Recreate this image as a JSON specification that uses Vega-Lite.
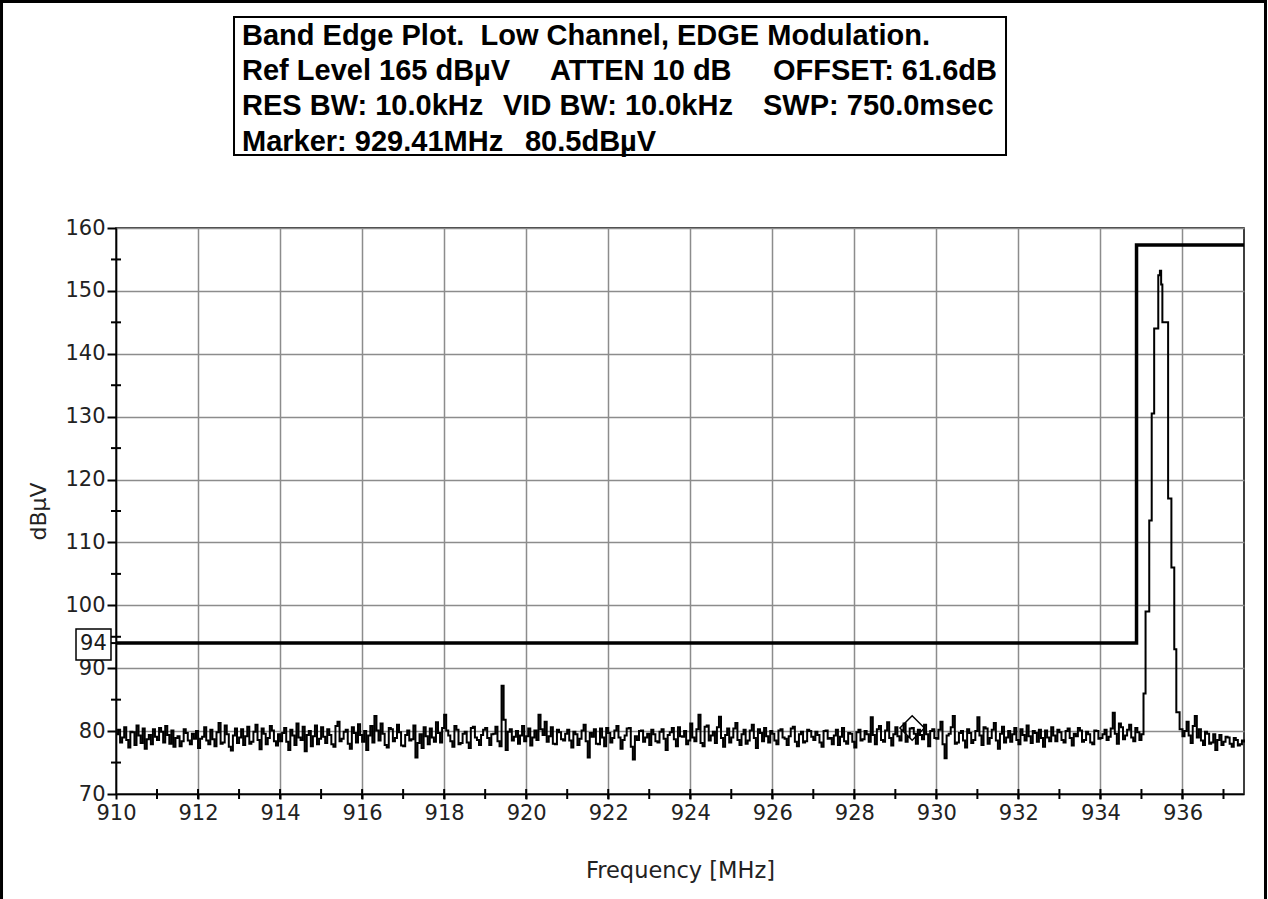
{
  "$schema": "https://vega.github.io/schema/vega-lite/v6.json",
  "width": 1128,
  "height": 566,
  "autosize": {"type": "none"},
  "padding": {"left": 116, "top": 228, "right": 24, "bottom": 105},
  "background": "white",
  "config": {"view": {"stroke": "black", "strokeWidth": 1.5}, "font": "DejaVu Sans"},
  "data": {"values": [{}]},
  "datasets": {
    "trace": [
      {"f":910.0,"v":79.5},{"f":910.05,"v":80.2},{"f":910.1,"v":78.2},{"f":910.15,"v":79.0},{"f":910.2,"v":80.6},{"f":910.25,"v":78.6},{"f":910.3,"v":77.4},{"f":910.35,"v":79.9},{"f":910.4,"v":79.8},{"f":910.45,"v":77.8},{"f":910.5,"v":80.9},{"f":910.55,"v":79.3},{"f":910.6,"v":78.1},{"f":910.65,"v":80.4},{"f":910.7,"v":77.2},{"f":910.75,"v":78.7},{"f":910.8,"v":79.4},{"f":910.85,"v":77.9},{"f":910.9,"v":80.3},{"f":910.95,"v":79.1},
      {"f":911.0,"v":78.6},{"f":911.05,"v":80.5},{"f":911.1,"v":79.9},{"f":911.15,"v":78.2},{"f":911.2,"v":80.8},{"f":911.25,"v":79.4},{"f":911.3,"v":78.0},{"f":911.35,"v":80.1},{"f":911.4,"v":77.5},{"f":911.45,"v":78.9},{"f":911.5,"v":79.2},{"f":911.55,"v":77.6},{"f":911.6,"v":78.4},{"f":911.65,"v":80.3},{"f":911.7,"v":79.7},{"f":911.75,"v":78.5},{"f":911.8,"v":77.9},{"f":911.85,"v":79.6},{"f":911.9,"v":78.8},{"f":911.95,"v":80.0},
      {"f":912.0,"v":77.3},{"f":912.05,"v":78.8},{"f":912.1,"v":79.1},{"f":912.15,"v":80.6},{"f":912.2,"v":78.5},{"f":912.25,"v":77.9},{"f":912.3,"v":80.2},{"f":912.35,"v":78.7},{"f":912.4,"v":77.6},{"f":912.45,"v":79.8},{"f":912.5,"v":81.3},{"f":912.55,"v":78.0},{"f":912.6,"v":78.2},{"f":912.65,"v":80.9},{"f":912.7,"v":79.5},{"f":912.75,"v":77.5},{"f":912.8,"v":76.9},{"f":912.85,"v":79.3},{"f":912.9,"v":80.4},{"f":912.95,"v":78.1},
      {"f":913.0,"v":79.0},{"f":913.05,"v":80.3},{"f":913.1,"v":77.8},{"f":913.15,"v":79.2},{"f":913.2,"v":80.7},{"f":913.25,"v":78.0},{"f":913.3,"v":78.3},{"f":913.35,"v":79.9},{"f":913.4,"v":81.0},{"f":913.45,"v":78.6},{"f":913.5,"v":77.1},{"f":913.55,"v":80.4},{"f":913.6,"v":79.6},{"f":913.65,"v":77.9},{"f":913.7,"v":78.9},{"f":913.75,"v":80.8},{"f":913.8,"v":80.1},{"f":913.85,"v":78.4},{"f":913.9,"v":77.7},{"f":913.95,"v":79.5},
      {"f":914.0,"v":78.4},{"f":914.05,"v":79.7},{"f":914.1,"v":80.5},{"f":914.15,"v":78.3},{"f":914.2,"v":77.0},{"f":914.25,"v":80.2},{"f":914.3,"v":79.3},{"f":914.35,"v":77.8},{"f":914.4,"v":81.2},{"f":914.45,"v":79.0},{"f":914.5,"v":78.6},{"f":914.55,"v":80.7},{"f":914.6,"v":76.8},{"f":914.65,"v":79.4},{"f":914.7,"v":80.0},{"f":914.75,"v":77.6},{"f":914.8,"v":79.2},{"f":914.85,"v":80.9},{"f":914.9,"v":77.9},{"f":914.95,"v":78.8},
      {"f":915.0,"v":80.6},{"f":915.05,"v":79.1},{"f":915.1,"v":78.1},{"f":915.15,"v":80.3},{"f":915.2,"v":79.4},{"f":915.25,"v":77.9},{"f":915.3,"v":77.5},{"f":915.35,"v":80.8},{"f":915.4,"v":81.5},{"f":915.45,"v":78.4},{"f":915.5,"v":78.8},{"f":915.55,"v":79.9},{"f":915.6,"v":80.2},{"f":915.65,"v":78.0},{"f":915.7,"v":77.2},{"f":915.75,"v":80.6},{"f":915.8,"v":79.7},{"f":915.85,"v":78.2},{"f":915.9,"v":81.1},{"f":915.95,"v":79.4},
      {"f":916.0,"v":78.3},{"f":916.05,"v":80.0},{"f":916.1,"v":77.0},{"f":916.15,"v":79.3},{"f":916.2,"v":80.8},{"f":916.25,"v":78.2},{"f":916.3,"v":82.4},{"f":916.35,"v":80.1},{"f":916.4,"v":78.5},{"f":916.45,"v":81.2},{"f":916.5,"v":79.6},{"f":916.55,"v":77.8},{"f":916.6,"v":77.4},{"f":916.65,"v":80.5},{"f":916.7,"v":80.3},{"f":916.75,"v":78.4},{"f":916.8,"v":78.9},{"f":916.85,"v":81.0},{"f":916.9,"v":79.8},{"f":916.95,"v":77.7},
      {"f":917.0,"v":77.6},{"f":917.05,"v":79.4},{"f":917.1,"v":80.1},{"f":917.15,"v":78.5},{"f":917.2,"v":78.7},{"f":917.25,"v":80.9},{"f":917.3,"v":75.8},{"f":917.35,"v":78.1},{"f":917.4,"v":79.5},{"f":917.45,"v":77.3},{"f":917.5,"v":80.6},{"f":917.55,"v":79.2},{"f":917.6,"v":77.9},{"f":917.65,"v":80.4},{"f":917.7,"v":79.0},{"f":917.75,"v":78.3},{"f":917.8,"v":81.4},{"f":917.85,"v":79.7},{"f":917.9,"v":78.2},{"f":917.95,"v":80.5},
      {"f":918.0,"v":82.6},{"f":918.05,"v":80.1},{"f":918.1,"v":79.3},{"f":918.15,"v":78.4},{"f":918.2,"v":77.5},{"f":918.25,"v":80.8},{"f":918.3,"v":80.2},{"f":918.35,"v":77.9},{"f":918.4,"v":78.1},{"f":918.45,"v":79.6},{"f":918.5,"v":79.9},{"f":918.55,"v":78.2},{"f":918.6,"v":77.3},{"f":918.65,"v":80.5},{"f":918.7,"v":80.7},{"f":918.75,"v":79.0},{"f":918.8,"v":78.6},{"f":918.85,"v":77.8},{"f":918.9,"v":79.4},{"f":918.95,"v":80.2},
      {"f":919.0,"v":80.5},{"f":919.05,"v":78.9},{"f":919.1,"v":77.8},{"f":919.15,"v":79.5},{"f":919.2,"v":79.6},{"f":919.25,"v":80.7},{"f":919.3,"v":78.4},{"f":919.35,"v":77.6},{"f":919.4,"v":87.2},{"f":919.45,"v":81.8},{"f":919.5,"v":77.0},{"f":919.55,"v":79.9},{"f":919.6,"v":80.3},{"f":919.65,"v":78.5},{"f":919.7,"v":79.1},{"f":919.75,"v":80.0},{"f":919.8,"v":78.0},{"f":919.85,"v":79.3},{"f":919.9,"v":80.8},{"f":919.95,"v":78.4},
      {"f":920.0,"v":79.2},{"f":920.05,"v":80.4},{"f":920.1,"v":77.7},{"f":920.15,"v":79.0},{"f":920.2,"v":80.1},{"f":920.25,"v":78.6},{"f":920.3,"v":82.6},{"f":920.35,"v":80.3},{"f":920.4,"v":79.4},{"f":920.45,"v":81.5},{"f":920.5,"v":78.3},{"f":920.55,"v":79.2},{"f":920.6,"v":80.6},{"f":920.65,"v":78.0},{"f":920.7,"v":77.9},{"f":920.75,"v":80.2},{"f":920.8,"v":79.8},{"f":920.85,"v":78.7},{"f":920.9,"v":78.5},{"f":920.95,"v":79.6},
      {"f":921.0,"v":80.2},{"f":921.05,"v":78.5},{"f":921.1,"v":77.4},{"f":921.15,"v":79.9},{"f":921.2,"v":79.5},{"f":921.25,"v":77.8},{"f":921.3,"v":78.8},{"f":921.35,"v":80.1},{"f":921.4,"v":81.0},{"f":921.45,"v":78.4},{"f":921.5,"v":75.8},{"f":921.55,"v":79.7},{"f":921.6,"v":79.1},{"f":921.65,"v":80.3},{"f":921.7,"v":78.0},{"f":921.75,"v":77.9},{"f":921.8,"v":80.4},{"f":921.85,"v":79.0},{"f":921.9,"v":77.6},{"f":921.95,"v":80.5},
      {"f":922.0,"v":79.7},{"f":922.05,"v":78.2},{"f":922.1,"v":78.9},{"f":922.15,"v":80.1},{"f":922.2,"v":80.8},{"f":922.25,"v":79.0},{"f":922.3,"v":77.2},{"f":922.35,"v":78.6},{"f":922.4,"v":79.3},{"f":922.45,"v":80.4},{"f":922.5,"v":80.5},{"f":922.55,"v":77.5},{"f":922.6,"v":75.5},{"f":922.65,"v":79.2},{"f":922.7,"v":78.6},{"f":922.75,"v":80.0},{"f":922.8,"v":80.1},{"f":922.85,"v":78.3},{"f":922.9,"v":79.0},{"f":922.95,"v":79.6},
      {"f":923.0,"v":77.8},{"f":923.05,"v":80.2},{"f":923.1,"v":79.5},{"f":923.15,"v":78.4},{"f":923.2,"v":78.2},{"f":923.25,"v":79.9},{"f":923.3,"v":80.3},{"f":923.35,"v":78.8},{"f":923.4,"v":77.0},{"f":923.45,"v":79.4},{"f":923.5,"v":79.8},{"f":923.55,"v":80.5},{"f":923.6,"v":78.7},{"f":923.65,"v":77.6},{"f":923.7,"v":80.6},{"f":923.75,"v":79.2},{"f":923.8,"v":79.1},{"f":923.85,"v":80.0},{"f":923.9,"v":77.9},{"f":923.95,"v":78.5},
      {"f":924.0,"v":81.2},{"f":924.05,"v":79.0},{"f":924.1,"v":78.4},{"f":924.15,"v":80.3},{"f":924.2,"v":82.6},{"f":924.25,"v":78.1},{"f":924.3,"v":77.6},{"f":924.35,"v":80.7},{"f":924.4,"v":80.9},{"f":924.45,"v":78.5},{"f":924.5,"v":79.3},{"f":924.55,"v":79.9},{"f":924.6,"v":78.1},{"f":924.65,"v":80.6},{"f":924.7,"v":82.3},{"f":924.75,"v":78.9},{"f":924.8,"v":77.5},{"f":924.85,"v":79.4},{"f":924.9,"v":80.4},{"f":924.95,"v":78.2},
      {"f":925.0,"v":79.0},{"f":925.05,"v":80.4},{"f":925.1,"v":81.3},{"f":925.15,"v":78.6},{"f":925.2,"v":77.8},{"f":925.25,"v":79.5},{"f":925.3,"v":80.2},{"f":925.35,"v":78.0},{"f":925.4,"v":78.5},{"f":925.45,"v":80.1},{"f":925.5,"v":81.0},{"f":925.55,"v":78.9},{"f":925.6,"v":77.3},{"f":925.65,"v":80.3},{"f":925.7,"v":79.7},{"f":925.75,"v":78.4},{"f":925.8,"v":80.5},{"f":925.85,"v":79.2},{"f":925.9,"v":78.2},{"f":925.95,"v":80.0},
      {"f":926.0,"v":79.6},{"f":926.05,"v":78.5},{"f":926.1,"v":77.9},{"f":926.15,"v":80.1},{"f":926.2,"v":80.3},{"f":926.25,"v":79.0},{"f":926.3,"v":78.8},{"f":926.35,"v":77.8},{"f":926.4,"v":79.2},{"f":926.45,"v":80.4},{"f":926.5,"v":80.7},{"f":926.55,"v":78.3},{"f":926.6,"v":77.6},{"f":926.65,"v":79.5},{"f":926.7,"v":79.9},{"f":926.75,"v":78.2},{"f":926.8,"v":78.4},{"f":926.85,"v":80.2},{"f":926.9,"v":80.0},{"f":926.95,"v":79.1},
      {"f":927.0,"v":78.6},{"f":927.05,"v":79.9},{"f":927.1,"v":79.4},{"f":927.15,"v":78.2},{"f":927.2,"v":77.5},{"f":927.25,"v":80.0},{"f":927.3,"v":80.1},{"f":927.35,"v":78.8},{"f":927.4,"v":78.9},{"f":927.45,"v":77.9},{"f":927.5,"v":79.3},{"f":927.55,"v":80.2},{"f":927.6,"v":77.8},{"f":927.65,"v":79.1},{"f":927.7,"v":80.5},{"f":927.75,"v":78.4},{"f":927.8,"v":78.0},{"f":927.85,"v":79.7},{"f":927.9,"v":79.6},{"f":927.95,"v":78.3},
      {"f":928.0,"v":77.4},{"f":928.05,"v":79.8},{"f":928.1,"v":80.2},{"f":928.15,"v":78.5},{"f":928.2,"v":78.7},{"f":928.25,"v":80.0},{"f":928.3,"v":79.5},{"f":928.35,"v":78.3},{"f":928.4,"v":82.2},{"f":928.45,"v":79.4},{"f":928.5,"v":77.9},{"f":928.55,"v":80.3},{"f":928.6,"v":80.8},{"f":928.65,"v":78.6},{"f":928.7,"v":78.3},{"f":928.75,"v":80.1},{"f":928.8,"v":81.4},{"f":928.85,"v":78.9},{"f":928.9,"v":77.7},{"f":928.95,"v":79.5},
      {"f":929.0,"v":80.6},{"f":929.05,"v":79.2},{"f":929.1,"v":78.5},{"f":929.15,"v":80.1},{"f":929.2,"v":81.2},{"f":929.25,"v":78.3},{"f":929.3,"v":79.1},{"f":929.35,"v":80.4},{"f":929.4,"v":80.5},{"f":929.45,"v":79.6},{"f":929.5,"v":78.0},{"f":929.55,"v":80.2},{"f":929.6,"v":79.4},{"f":929.65,"v":78.7},{"f":929.7,"v":81.0},{"f":929.75,"v":79.5},{"f":929.8,"v":77.6},{"f":929.85,"v":80.0},{"f":929.9,"v":80.3},{"f":929.95,"v":78.9},
      {"f":930.0,"v":78.8},{"f":930.05,"v":80.2},{"f":930.1,"v":81.5},{"f":930.15,"v":77.9},{"f":930.2,"v":75.7},{"f":930.25,"v":79.3},{"f":930.3,"v":79.6},{"f":930.35,"v":80.6},{"f":930.4,"v":82.4},{"f":930.45,"v":78.0},{"f":930.5,"v":78.2},{"f":930.55,"v":79.7},{"f":930.6,"v":80.0},{"f":930.65,"v":78.5},{"f":930.7,"v":77.4},{"f":930.75,"v":80.3},{"f":930.8,"v":79.7},{"f":930.85,"v":78.1},{"f":930.9,"v":78.6},{"f":930.95,"v":80.0},
      {"f":931.0,"v":82.2},{"f":931.05,"v":79.3},{"f":931.1,"v":77.8},{"f":931.15,"v":80.6},{"f":931.2,"v":80.4},{"f":931.25,"v":78.0},{"f":931.3,"v":78.9},{"f":931.35,"v":80.2},{"f":931.4,"v":81.3},{"f":931.45,"v":78.5},{"f":931.5,"v":77.2},{"f":931.55,"v":79.6},{"f":931.6,"v":80.7},{"f":931.65,"v":78.2},{"f":931.7,"v":79.0},{"f":931.75,"v":80.0},{"f":931.8,"v":78.3},{"f":931.85,"v":79.5},{"f":931.9,"v":80.5},{"f":931.95,"v":78.6},
      {"f":932.0,"v":77.9},{"f":932.05,"v":80.3},{"f":932.1,"v":79.4},{"f":932.15,"v":78.5},{"f":932.2,"v":80.9},{"f":932.25,"v":79.2},{"f":932.3,"v":78.1},{"f":932.35,"v":80.0},{"f":932.4,"v":79.7},{"f":932.45,"v":78.3},{"f":932.5,"v":80.2},{"f":932.55,"v":78.9},{"f":932.6,"v":77.5},{"f":932.65,"v":80.1},{"f":932.7,"v":79.0},{"f":932.75,"v":78.4},{"f":932.8,"v":80.6},{"f":932.85,"v":79.3},{"f":932.9,"v":78.4},{"f":932.95,"v":80.2},
      {"f":933.0,"v":79.8},{"f":933.05,"v":78.6},{"f":933.1,"v":78.2},{"f":933.15,"v":80.0},{"f":933.2,"v":80.4},{"f":933.25,"v":78.9},{"f":933.3,"v":77.7},{"f":933.35,"v":79.6},{"f":933.4,"v":79.2},{"f":933.45,"v":80.5},{"f":933.5,"v":80.1},{"f":933.55,"v":78.3},{"f":933.6,"v":78.6},{"f":933.65,"v":79.9},{"f":933.7,"v":79.5},{"f":933.75,"v":78.2},{"f":933.8,"v":77.9},{"f":933.85,"v":80.1},{"f":933.9,"v":80.0},{"f":933.95,"v":78.8},
      {"f":934.0,"v":78.9},{"f":934.05,"v":79.5},{"f":934.1,"v":80.2},{"f":934.15,"v":78.6},{"f":934.2,"v":79.1},{"f":934.25,"v":80.4},{"f":934.3,"v":82.9},{"f":934.35,"v":79.6},{"f":934.4,"v":78.0},{"f":934.45,"v":81.2},{"f":934.5,"v":80.6},{"f":934.55,"v":78.7},{"f":934.6,"v":79.3},{"f":934.65,"v":80.2},{"f":934.7,"v":81.0},{"f":934.75,"v":79.0},{"f":934.8,"v":78.4},{"f":934.85,"v":80.5},{"f":934.9,"v":79.8},{"f":934.95,"v":78.6},
      {"f":935.0,"v":79.5},{"f":935.05,"v":86.0},{"f":935.1,"v":99.0},{"f":935.19,"v":113.5},{"f":935.25,"v":130.5},{"f":935.31,"v":144.0},{"f":935.41,"v":152.5},{"f":935.45,"v":153.2},{"f":935.48,"v":151.0},{"f":935.51,"v":145.0},{"f":935.65,"v":117.0},{"f":935.73,"v":106.0},{"f":935.8,"v":93.0},{"f":935.85,"v":83.0},{"f":935.93,"v":80.3},
      {"f":936.0,"v":79.2},{"f":936.05,"v":80.0},{"f":936.1,"v":81.5},{"f":936.15,"v":79.3},{"f":936.2,"v":78.1},{"f":936.25,"v":80.8},{"f":936.3,"v":82.4},{"f":936.35,"v":79.0},{"f":936.4,"v":80.3},{"f":936.45,"v":78.5},{"f":936.5,"v":77.8},{"f":936.55,"v":79.9},{"f":936.6,"v":79.6},{"f":936.65,"v":78.0},{"f":936.7,"v":78.2},{"f":936.75,"v":79.5},{"f":936.8,"v":77.0},{"f":936.85,"v":78.6},{"f":936.9,"v":79.4},{"f":936.95,"v":77.8},
      {"f":937.0,"v":78.3},{"f":937.05,"v":79.1},{"f":937.1,"v":79.0},{"f":937.15,"v":78.0},{"f":937.2,"v":77.5},{"f":937.25,"v":78.9},{"f":937.3,"v":78.6},{"f":937.35,"v":77.7},{"f":937.4,"v":77.9},{"f":937.45,"v":78.5},{"f":937.5,"v":78.2}
    ],
    "limit": [{"f":910,"v":94},{"f":934.88,"v":157.3},{"f":937.5,"v":157.3}],
    "marker": [{"f":929.41,"v":80.5}],
    "xminor": [{"f":911},{"f":912},{"f":913},{"f":914},{"f":915},{"f":916},{"f":917},{"f":918},{"f":919},{"f":920},{"f":921},{"f":922},{"f":923},{"f":924},{"f":925},{"f":926},{"f":927},{"f":928},{"f":929},{"f":930},{"f":931},{"f":932},{"f":933},{"f":934},{"f":935},{"f":936},{"f":937}],
    "yminor": [{"v":75},{"v":85},{"v":94},{"v":95},{"v":105},{"v":115},{"v":125},{"v":135},{"v":145},{"v":155}]
  },
  "layer": [
    {
      "data": {"name": "trace"},
      "mark": {"type": "line", "interpolate": "step-after", "color": "black", "strokeWidth": 2},
      "encoding": {
        "x": {"field": "f", "type": "quantitative", "title": "Frequency [MHz]", "scale": {"domain": [910, 937.5], "nice": false, "zero": false},
          "axis": {"values": [910,912,914,916,918,920,922,924,926,928,930,932,934,936],
            "format": "d",
            "labelOverlap": false, "labelFlush": false,
            "grid": true, "gridColor": "#8c8c8c", "gridWidth": 1.5,
            "ticks": true, "tickColor": "black", "tickSize": 5, "tickWidth": 2,
            "domainColor": "black", "domainWidth": 1.5,
            "labelFont": "DejaVu Sans", "labelFontSize": 21, "labelColor": "#222222", "labelPadding": 3,
            "titleFont": "DejaVu Sans", "titleFontSize": 22.5, "titleFontWeight": "normal", "titleColor": "#222222", "titlePadding": 36}},
        "y": {"field": "v", "type": "quantitative", "title": "dBµV", "scale": {"domain": [70, 160], "nice": false, "zero": false},
          "axis": {"values": [70,80,90,100,110,120,130,140,150,160],
            "format": "d",
            "labelOverlap": false, "labelFlush": false,
            "grid": true, "gridColor": "#8c8c8c", "gridWidth": 1.5,
            "ticks": true, "tickColor": "black", "tickWidth": 2, "tickSize": 9,
            "domainColor": "black", "domainWidth": 1.5,
            "labelFont": "DejaVu Sans", "labelFontSize": 21, "labelColor": "#222222", "labelPadding": 2,
            "titleFont": "DejaVu Sans", "titleFontSize": 22, "titleFontWeight": "normal", "titleColor": "#222222", "titlePadding": 14}}
      }
    },
    {
      "data": {"name": "xminor"},
      "mark": {"type": "tick", "orient": "vertical", "size": 10, "thickness": 2, "color": "black", "opacity": 1},
      "encoding": {
        "x": {"field": "f", "type": "quantitative", "title": "Frequency [MHz]", "scale": {"domain": [910, 937.5], "nice": false, "zero": false}},
        "y": {"datum": 70, "type": "quantitative", "title": "dBµV", "scale": {"domain": [70, 160], "nice": false, "zero": false}}
      }
    },
    {
      "data": {"name": "yminor"},
      "mark": {"type": "tick", "orient": "horizontal", "size": 10, "thickness": 2, "color": "black", "opacity": 1},
      "encoding": {
        "x": {"datum": 910, "type": "quantitative", "title": "Frequency [MHz]", "scale": {"domain": [910, 937.5], "nice": false, "zero": false}},
        "y": {"field": "v", "type": "quantitative", "title": "dBµV", "scale": {"domain": [70, 160], "nice": false, "zero": false}}
      }
    },
    {
      "data": {"name": "limit"},
      "mark": {"type": "line", "interpolate": "step-after", "color": "black", "strokeWidth": 3.5},
      "encoding": {
        "x": {"field": "f", "type": "quantitative", "title": "Frequency [MHz]", "scale": {"domain": [910, 937.5], "nice": false, "zero": false}},
        "y": {"field": "v", "type": "quantitative", "title": "dBµV", "scale": {"domain": [70, 160], "nice": false, "zero": false}}
      }
    },
    {
      "data": {"name": "marker"},
      "mark": {"type": "point", "shape": "diamond", "filled": false, "color": "black", "strokeWidth": 1.5, "size": 600, "opacity": 1},
      "encoding": {
        "x": {"field": "f", "type": "quantitative", "title": "Frequency [MHz]", "scale": {"domain": [910, 937.5], "nice": false, "zero": false}},
        "y": {"field": "v", "type": "quantitative", "title": "dBµV", "scale": {"domain": [70, 160], "nice": false, "zero": false}}
      }
    },
    {
      "mark": {"type": "rect", "filled": false, "stroke": "black", "strokeWidth": 3},
      "encoding": {
        "x": {"datum": 907.209, "type": "quantitative", "title": "Frequency [MHz]", "scale": {"domain": [910, 937.5], "nice": false, "zero": false}},
        "x2": {"datum": 938.024},
        "y": {"datum": 196.02, "type": "quantitative", "title": "dBµV", "scale": {"domain": [70, 160], "nice": false, "zero": false}},
        "y2": {"datum": 49.97}
      }
    },
    {
      "mark": {"type": "rect", "fill": "white", "stroke": "black", "strokeWidth": 2},
      "encoding": {
        "x": {"datum": 912.877, "type": "quantitative", "title": "Frequency [MHz]", "scale": {"domain": [910, 937.5], "nice": false, "zero": false}},
        "x2": {"datum": 931.698},
        "y": {"datum": 193.55, "type": "quantitative", "title": "dBµV", "scale": {"domain": [70, 160], "nice": false, "zero": false}},
        "y2": {"datum": 171.61}
      }
    },
    {
      "mark": {"type": "rect", "fill": "white", "stroke": "black", "strokeWidth": 1.5},
      "encoding": {
        "x": {"datum": 909.025, "type": "quantitative", "title": "Frequency [MHz]", "scale": {"domain": [910, 937.5], "nice": false, "zero": false}},
        "x2": {"datum": 909.878},
        "y": {"datum": 96.24, "type": "quantitative", "title": "dBµV", "scale": {"domain": [70, 160], "nice": false, "zero": false}},
        "y2": {"datum": 91.31}
      }
    },
    {
      "mark": {"type": "text", "font": "DejaVu Sans", "fontSize": 21, "align": "center", "baseline": "middle", "color": "#1a1a1a"},
      "encoding": {
        "x": {"datum": 909.451, "type": "quantitative", "title": "Frequency [MHz]", "scale": {"domain": [910, 937.5], "nice": false, "zero": false}},
        "y": {"datum": 93.8, "type": "quantitative", "title": "dBµV", "scale": {"domain": [70, 160], "nice": false, "zero": false}},
        "text": {"value": "94"}
      }
    },
    {
      "mark": {"type": "text", "font": "Liberation Sans", "fontWeight": "bold", "fontSize": 29, "align": "left", "baseline": "middle", "color": "black"},
      "encoding": {
        "x": {"datum": 913.072, "type": "quantitative", "title": "Frequency [MHz]", "scale": {"domain": [910, 937.5], "nice": false, "zero": false}},
        "y": {"datum": 190.6, "type": "quantitative", "title": "dBµV", "scale": {"domain": [70, 160], "nice": false, "zero": false}},
        "text": {"value": "Band Edge Plot.\u00a0 Low Channel, EDGE Modulation."}
      }
    },
    {
      "mark": {"type": "text", "font": "Liberation Sans", "fontWeight": "bold", "fontSize": 29, "align": "left", "baseline": "middle", "color": "black"},
      "encoding": {
        "x": {"datum": 913.072, "type": "quantitative", "title": "Frequency [MHz]", "scale": {"domain": [910, 937.5], "nice": false, "zero": false}},
        "y": {"datum": 184.96, "type": "quantitative", "title": "dBµV", "scale": {"domain": [70, 160], "nice": false, "zero": false}},
        "text": {"value": "Ref Level 165 dBµV"}
      }
    },
    {
      "mark": {"type": "text", "font": "Liberation Sans", "fontWeight": "bold", "fontSize": 29, "align": "left", "baseline": "middle", "color": "black"},
      "encoding": {
        "x": {"datum": 920.581, "type": "quantitative", "title": "Frequency [MHz]", "scale": {"domain": [910, 937.5], "nice": false, "zero": false}},
        "y": {"datum": 184.96, "type": "quantitative", "title": "dBµV", "scale": {"domain": [70, 160], "nice": false, "zero": false}},
        "text": {"value": "ATTEN 10 dB"}
      }
    },
    {
      "mark": {"type": "text", "font": "Liberation Sans", "fontWeight": "bold", "fontSize": 29, "align": "left", "baseline": "middle", "color": "black"},
      "encoding": {
        "x": {"datum": 926.017, "type": "quantitative", "title": "Frequency [MHz]", "scale": {"domain": [910, 937.5], "nice": false, "zero": false}},
        "y": {"datum": 184.96, "type": "quantitative", "title": "dBµV", "scale": {"domain": [70, 160], "nice": false, "zero": false}},
        "text": {"value": "OFFSET: 61.6dB"}
      }
    },
    {
      "mark": {"type": "text", "font": "Liberation Sans", "fontWeight": "bold", "fontSize": 29, "align": "left", "baseline": "middle", "color": "black"},
      "encoding": {
        "x": {"datum": 913.072, "type": "quantitative", "title": "Frequency [MHz]", "scale": {"domain": [910, 937.5], "nice": false, "zero": false}},
        "y": {"datum": 179.40, "type": "quantitative", "title": "dBµV", "scale": {"domain": [70, 160], "nice": false, "zero": false}},
        "text": {"value": "RES BW: 10.0kHz"}
      }
    },
    {
      "mark": {"type": "text", "font": "Liberation Sans", "fontWeight": "bold", "fontSize": 29, "align": "left", "baseline": "middle", "color": "black"},
      "encoding": {
        "x": {"datum": 919.435, "type": "quantitative", "title": "Frequency [MHz]", "scale": {"domain": [910, 937.5], "nice": false, "zero": false}},
        "y": {"datum": 179.40, "type": "quantitative", "title": "dBµV", "scale": {"domain": [70, 160], "nice": false, "zero": false}},
        "text": {"value": "VID BW: 10.0kHz"}
      }
    },
    {
      "mark": {"type": "text", "font": "Liberation Sans", "fontWeight": "bold", "fontSize": 29, "align": "left", "baseline": "middle", "color": "black"},
      "encoding": {
        "x": {"datum": 925.774, "type": "quantitative", "title": "Frequency [MHz]", "scale": {"domain": [910, 937.5], "nice": false, "zero": false}},
        "y": {"datum": 179.40, "type": "quantitative", "title": "dBµV", "scale": {"domain": [70, 160], "nice": false, "zero": false}},
        "text": {"value": "SWP: 750.0msec"}
      }
    },
    {
      "mark": {"type": "text", "font": "Liberation Sans", "fontWeight": "bold", "fontSize": 29, "align": "left", "baseline": "middle", "color": "black"},
      "encoding": {
        "x": {"datum": 913.072, "type": "quantitative", "title": "Frequency [MHz]", "scale": {"domain": [910, 937.5], "nice": false, "zero": false}},
        "y": {"datum": 173.7, "type": "quantitative", "title": "dBµV", "scale": {"domain": [70, 160], "nice": false, "zero": false}},
        "text": {"value": "Marker: 929.41MHz"}
      }
    },
    {
      "mark": {"type": "text", "font": "Liberation Sans", "fontWeight": "bold", "fontSize": 29, "align": "left", "baseline": "middle", "color": "black"},
      "encoding": {
        "x": {"datum": 919.971, "type": "quantitative", "title": "Frequency [MHz]", "scale": {"domain": [910, 937.5], "nice": false, "zero": false}},
        "y": {"datum": 173.7, "type": "quantitative", "title": "dBµV", "scale": {"domain": [70, 160], "nice": false, "zero": false}},
        "text": {"value": "80.5dBµV"}
      }
    }
  ]
}
